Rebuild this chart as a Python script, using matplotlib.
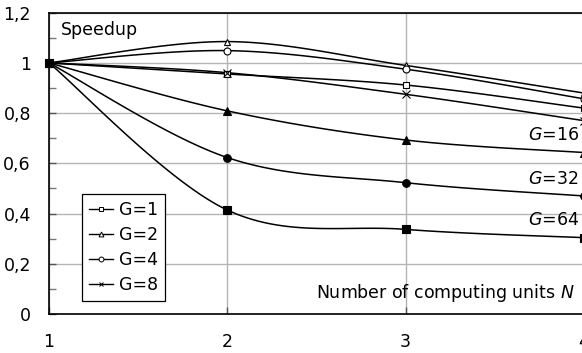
import numpy as np
import matplotlib
matplotlib.use("Agg")
import matplotlib.pyplot as plt
from matplotlib.ticker import MultipleLocator

plt.rcParams['font.family'] = ['DejaVu Sans']
plt.rcParams['mathtext.fontset'] = 'dejavusans'

# ---- data ----
N = [1, 2, 3, 4]
g1 = [1.0, 0.956, 0.912, 0.82]
g2 = [1.0, 1.085, 0.99, 0.88]
g4 = [1.0, 1.049, 0.975, 0.857]
g8 = [1.0, 0.961, 0.875, 0.77]
g16 = [1.0, 0.809, 0.693, 0.643]
g32 = [1.0, 0.623, 0.523, 0.47]
g64 = [1.0, 0.414, 0.337, 0.304]
yticks = [0, 0.2, 0.4, 0.6, 0.8, 1.0, 1.2]
ytick_labels = ["0", "0,2", "0,4", "0,6", "0,8", "1", "1,2"]
xtick_labels = ["1", "2", "3", "4"]

FS = 12.5


def smooth(x, y, n=40):
    """Excel-like smoothed line (cubic Bezier, Catmull-Rom tangents)."""
    x = np.asarray(x, float); y = np.asarray(y, float)
    P = np.column_stack([x, y])
    ext = np.vstack([P[0], P, P[-1]])
    out = []
    t = np.linspace(0, 1, n)[:, None]
    for i in range(len(P) - 1):
        p0, p3 = P[i], P[i + 1]
        c1 = p0 + (ext[i + 2] - ext[i]) / 6.0
        c2 = p3 - (ext[i + 3] - ext[i + 1]) / 6.0
        seg = ((1 - t) ** 3) * p0 + 3 * ((1 - t) ** 2) * t * c1 + 3 * (1 - t) * t ** 2 * c2 + t ** 3 * p3
        out.append(seg if i == 0 else seg[1:])
    s = np.vstack(out)
    return s[:, 0], s[:, 1]


fig = plt.figure(figsize=(5.82, 3.53), dpi=100)
ax = fig.add_axes([49 / 582, 39 / 353, 535 / 582, 301.3 / 353])

series = [
    (g1, 's', 'white', 'G=1', True),
    (g2, '^', 'white', 'G=2', True),
    (g4, 'o', 'white', 'G=4', True),
    (g8, 'x', 'black', 'G=8', True),
    (g16, '^', 'black', None, False),
    (g32, 'o', 'black', None, False),
    (g64, 's', 'black', None, False),
]

handles = []
for ys, m, fc, lab, inleg in series:
    sx, sy = smooth(N, ys)
    ax.plot(sx, sy, color='black', lw=1.1, zorder=3, clip_on=False)
    ms = 5.5 if fc == 'black' else 5
    ax.plot(N, ys, linestyle='none', marker=m, markersize=ms,
            markerfacecolor=fc, markeredgecolor='black', markeredgewidth=0.8,
            zorder=4, clip_on=False)
    if inleg:
        h, = ax.plot([], [], color='black', lw=1.0, marker=m, markersize=3.5,
                     markerfacecolor=fc, markeredgecolor='black', markeredgewidth=0.7,
                     label=lab)
        handles.append(h)

ax.set_xlim(1, 4)
ax.set_ylim(0, 1.2)
ax.set_xticks(N)
ax.set_xticklabels(xtick_labels)
ax.set_yticks(yticks)
ax.set_yticklabels(ytick_labels)
ax.yaxis.set_minor_locator(MultipleLocator(0.1))

ax.grid(True, which='major', color='#b4b4b4', lw=1.0, zorder=0)
ax.tick_params(axis='both', which='major', direction='in', length=5, width=1,
               color='#555555', labelsize=FS)
ax.tick_params(axis='y', which='major', pad=13)
ax.tick_params(axis='x', which='major', pad=14)
ax.tick_params(axis='y', which='minor', direction='in', length=5, width=1, color='#777777')
for sp in ['left', 'bottom', 'top']:
    ax.spines[sp].set_linewidth(1.2)
    ax.spines[sp].set_color('black')
ax.spines['right'].set_visible(False)

ax.text(1.067, 1.131, 'Speedup', fontsize=FS, ha='left', va='center')
ax.text(3.95, 0.084, 'Number of computing units $N$', fontsize=FS, ha='right', va='center')
ax.text(3.97, 0.713, '$G$=16', fontsize=FS, ha='right', va='center')
ax.text(3.97, 0.538, '$G$=32', fontsize=FS, ha='right', va='center')
ax.text(3.97, 0.375, '$G$=64', fontsize=FS, ha='right', va='center')

leg = ax.legend(handles=handles, loc='lower left', bbox_to_anchor=(0.062, 0.043),
                fontsize=FS, frameon=True, fancybox=False, edgecolor='black',
                framealpha=1, handlelength=1.4, handletextpad=0.3,
                labelspacing=0.4, borderpad=0.4, borderaxespad=0)
leg.get_frame().set_linewidth(0.9)
leg.set_zorder(5)

fig.savefig('out.png', dpi=100)
